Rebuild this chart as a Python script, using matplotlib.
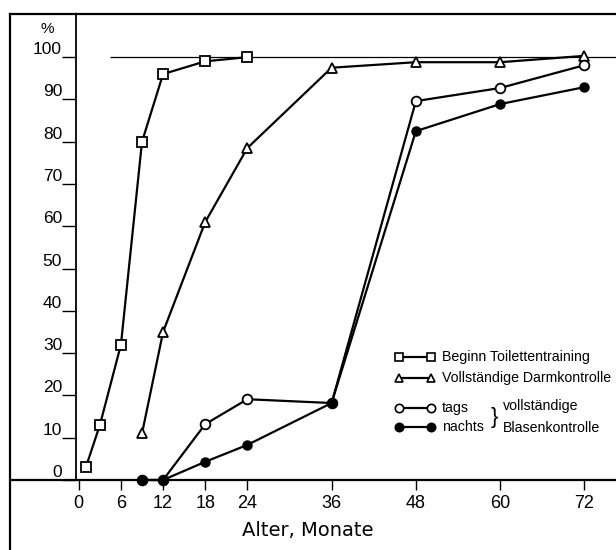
import numpy as np
import matplotlib
matplotlib.use("Agg")
from matplotlib import pyplot as plt
from matplotlib.lines import Line2D

plt.rcParams['font.family'] = ['Liberation Sans', 'DejaVu Sans']

# data (age in months, percent)
x_training = [1, 3, 6, 9, 12, 18, 24]
y_training = [3, 13, 32, 80, 96, 99, 100]
x_darm = [9, 12, 18, 24, 36, 48, 60, 72]
y_darm = [11, 35, 61, 78.5, 97.5, 98.8, 98.8, 100.3]
x_blase = [9, 12, 18, 24, 36, 48, 60, 72]
y_tags = [0, 0, 13.2, 19.1, 18.2, 89.6, 92.7, 98.1]
y_nachts = [0, 0, 4.3, 8.3, 18.2, 82.5, 88.9, 92.9]

x_ticks = [0, 6, 12, 18, 24, 36, 48, 60, 72]
y_ticks = list(range(0, 101, 10))

W, H = 616, 550
fig = plt.figure(figsize=(W / 100, H / 100), dpi=100)
ax = fig.add_axes([76 / W, (H - 480) / H, (W - 76) / W, (480 - 14) / H])
ax.set_xlim(-0.4, 76.5)
ax.set_ylim(0, 110.2)

lw = 1.6
ms = 6.5
ax.hlines(100, 4.4, 76.5, color='black', lw=0.9)
ax.plot(x_training, y_training, '-s', color='black', lw=lw, ms=ms, mfc='white', mec='black', mew=1.3, clip_on=False)
ax.plot(x_darm, y_darm, '-^', color='black', lw=lw, ms=ms, mfc='white', mec='black', mew=1.3, clip_on=False)
ax.plot(x_blase, y_tags, '-o', color='black', lw=lw, ms=ms + 0.5, mfc='white', mec='black', mew=1.3, clip_on=False)
ax.plot(x_blase, y_nachts, '-o', color='black', lw=lw, ms=ms, mfc='black', mec='black', clip_on=False)

for s in ['right', 'bottom']:
    ax.spines[s].set_visible(False)
ax.spines['top'].set_linewidth(1.6)
ax.spines['left'].set_linewidth(1.3)

ax.set_xticks(x_ticks)
ax.set_xticklabels([str(v) for v in x_ticks], fontsize=13)
ax.set_yticks(y_ticks)
ax.set_yticklabels([str(v) for v in y_ticks], fontsize=12.5)
ax.tick_params(axis='x', direction='out', length=7, width=1, pad=4)
ax.tick_params(axis='y', direction='out', length=10, width=1, pad=0)
for lbl in ax.get_yticklabels():
    lbl.set_va('bottom')

# outer frame and x axis across the whole width
fig.add_artist(Line2D([12 / W, 1], [(H - 480) / H] * 2, color='black', lw=1.6))
fig.add_artist(Line2D([10 / W, 76 / W], [1 - 14 / H] * 2, color='black', lw=1.6))
fig.add_artist(Line2D([10 / W, 10 / W], [0, 1 - 14 / H], color='black', lw=1.6))

fig.text(47 / W, 1 - 29 / H, '%', fontsize=11, ha='center', va='center')
fig.text(308 / W, 1 - 530 / H, 'Alter, Monate', fontsize=14, ha='center', va='center',
         family='DejaVu Sans')


# legend drawn by hand
def fx(px):
    return px / W


def fy(py):
    return 1 - py / H


rows = [
    (357, 's', 'white', 'Beginn Toilettentraining'),
    (378, '^', 'white', 'Vollständige Darmkontrolle'),
    (408, 'o', 'white', 'tags'),
    (427, 'o', 'black', 'nachts'),
]
for py, m, fc, label in rows:
    fig.add_artist(Line2D([fx(399), fx(431)], [fy(py)] * 2, color='black', lw=lw,
                          marker=m, ms=ms - 0.5, mfc=fc, mec='black', mew=1.2))
    fig.text(fx(442), fy(py), label, fontsize=10.2, ha='left', va='center')
fig.text(fx(494), fy(418), '}', fontsize=16, ha='center', va='center', fontweight='light')
fig.text(fx(503), fy(406), 'vollständige', fontsize=10.2, ha='left', va='center')
fig.text(fx(503), fy(428), 'Blasenkontrolle', fontsize=10.2, ha='left', va='center')

fig.savefig('out.png', dpi=100)
